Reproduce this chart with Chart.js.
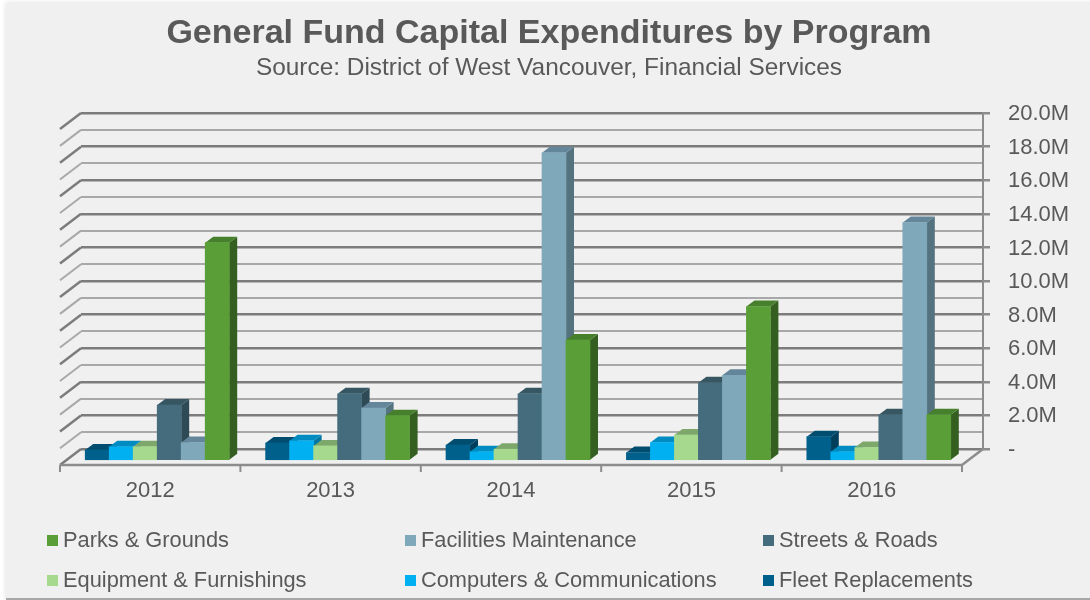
<!DOCTYPE html>
<html><head><meta charset="utf-8">
<script src="https://cdn.jsdelivr.net/npm/chart.js@4"></script>
<style>
html,body{margin:0;padding:0;background:#fff;width:1090px;height:600px;overflow:hidden}
#card{position:absolute;left:6px;top:3px;width:1090px;height:595px;background:#f0f0f0;box-shadow:0 0 5px rgba(0,0,0,.14);border-bottom:2px solid #a8a8a8}
#wrap{position:absolute;left:0;top:0;width:1090px;height:600px}
.lg{position:absolute;font:21.8px "Liberation Sans",Arial,sans-serif;color:#595959;white-space:nowrap;line-height:24px}
.lg i{position:absolute;left:-16px;top:7px;width:11px;height:11px}
</style></head><body>
<div id="card"></div>
<div id="wrap"><canvas id="c" width="1090" height="600"></canvas></div>
<script>
const categories = ['2012','2013','2014','2015','2016'];
const fleet      = [0.65,1.07,0.95,0.5,1.45];
const computers  = [0.85,1.2,0.55,1.1,0.55];
const equipment  = [0.85,0.9,0.7,1.55,0.8];
const streets    = [3.33,4.0,4.0,4.66,2.75];
const facilities = [1.1,3.15,18.35,5.1,14.2];
const parks      = [13.0,2.7,7.2,9.2,2.75];
const seriesNames = ['Fleet Replacements','Computers & Communications','Equipment & Furnishings','Streets & Roads','Facilities Maintenance','Parks & Grounds'];
const seriesValues = [fleet,computers,equipment,streets,facilities,parks];
const frontColors = ['#00608c','#00b0f0','#a6d98e','#446c7c','#7fa8ba','#5a9e38'];
const topColors   = ['#004d70','#008cc0','#7ea86b','#365662','#64869a','#47802c'];
const sideColors  = ['#003f5c','#0076a2','#6d925c','#2d4a55','#55727f','#355f20'];
const legendOrder = [5,4,3,2,1,0];
const yTickStep = 1;
const yMax = 20;
const FONT = '"Liberation Sans",Arial,sans-serif';
const GREY = '#595959';

const DEPTH_X = 21, DEPTH_Y = 16, BAR_DX = -14, BAR_DY = 12, SIDE_X = 8, SIDE_Y = 6;

const scene = {
  id:'scene',
  beforeDatasetDraw(){ return false; },
  afterDatasetsDraw(chart){
    const ctx = chart.ctx;
    const metas = seriesNames.map((_,i)=>chart.getDatasetMeta(i));
    ctx.save();
    ctx.translate(BAR_DX,BAR_DY);
    categories.forEach((_,c)=>{
      metas.forEach((m,s)=>{
        const b = m.data[c];
        const l = b.x-b.width/2, r = b.x+b.width/2, t = b.y, bt = b.base;
        ctx.fillStyle = sideColors[s];
        ctx.beginPath();
        ctx.moveTo(r,t);ctx.lineTo(r+SIDE_X,t-SIDE_Y);ctx.lineTo(r+SIDE_X,bt-SIDE_Y);ctx.lineTo(r,bt);ctx.closePath();ctx.fill();
        ctx.fillStyle = topColors[s];
        ctx.beginPath();
        ctx.moveTo(l,t);ctx.lineTo(l+SIDE_X,t-SIDE_Y);ctx.lineTo(r+SIDE_X,t-SIDE_Y);ctx.lineTo(r,t);ctx.closePath();ctx.fill();
        b.draw(ctx);
      });
    });
    ctx.restore();
  },
  beforeDatasetsDraw(chart){
    const ctx = chart.ctx, y = chart.scales.y, a = chart.chartArea;
    ctx.save();
    for(let v=0;v<=yMax;v+=yTickStep){
      const p = y.getPixelForValue(v);
      ctx.strokeStyle = v%2===0?'#7c7c7c':'#a8a8a8';
      ctx.lineWidth = v%2===0?2.5:2;
      ctx.beginPath();ctx.moveTo(a.left,p);ctx.lineTo(a.left-DEPTH_X,p+DEPTH_Y);ctx.stroke();
    }
    const y0 = y.getPixelForValue(0);
    ctx.strokeStyle='#8c8c8c';ctx.lineWidth=2.5;
    ctx.beginPath();ctx.moveTo(a.left-DEPTH_X,y0+DEPTH_Y);ctx.lineTo(a.right-DEPTH_X,y0+DEPTH_Y);ctx.lineTo(a.right,y0);ctx.stroke();
    const band = (a.right-a.left)/categories.length;
    ctx.lineWidth=2;
    for(let i=0;i<=categories.length;i++){
      const tx = a.left-DEPTH_X+i*band;
      ctx.beginPath();ctx.moveTo(tx,y0+DEPTH_Y);ctx.lineTo(tx,y0+DEPTH_Y+7);ctx.stroke();
    }
    ctx.restore();
  }
};

new Chart(document.getElementById('c'),{
  type:'bar',
  data:{labels:categories,datasets:seriesNames.map((n,i)=>({label:n,data:seriesValues[i],yAxisID:'y',backgroundColor:frontColors[i],barThickness:24,borderWidth:0}))},
  plugins:[scene],
  options:{
    responsive:false,animation:false,
    layout:{padding:{left:8,right:0,top:13,bottom:0}},
    plugins:{
      legend:{display:false},
      tooltip:{enabled:false},
      title:{display:true,text:'General Fund Capital Expenditures by Program',color:GREY,font:{family:FONT,size:34,weight:'bold'},padding:{top:0,bottom:0}},
      subtitle:{display:true,text:'Source: District of West Vancouver, Financial Services',color:GREY,font:{family:FONT,size:24.4,weight:'normal'},padding:{top:0,bottom:30}}
    },
    scales:{
      x:{
        grid:{display:false,drawTicks:false},
        border:{display:false},
        ticks:{color:GREY,font:{family:FONT,size:22},labelOffset:-21,padding:29,maxRotation:0},
        afterFit(s){s.height=151;}
      },
      y:{
        position:'right',min:0,max:yMax,
        grid:{color:c=>c.tick.value%2===0?'#7c7c7c':'#a8a8a8',lineWidth:c=>c.tick.value%2===0?2.5:2,tickLength:7,
              tickColor:c=>c.tick.value%2===0?'#8c8c8c':'rgba(0,0,0,0)',drawOnChartArea:true},
        border:{display:true,color:'#8c8c8c',width:2},
        ticks:{stepSize:yTickStep,color:GREY,font:{family:FONT,size:22},padding:18,labelOffset:1,autoSkip:false,
               callback:v=>v===0?'-':(v%2===0?v.toFixed(1)+'M':'')},
        afterFit(s){s.width=107;}
      },
      yLeft:{
        position:'left',min:0,max:yMax,
        grid:{display:false,drawTicks:false},border:{display:false},
        ticks:{display:false},
        afterFit(s){s.width=73;}
      }
    }
  }
});

const columns=[63,421,779], rows=[528,568];
legendOrder.forEach((s,i)=>{
  const d=document.createElement('div');d.className='lg';
  d.style.left=columns[i%3]+'px';d.style.top=rows[Math.floor(i/3)]+'px';
  d.textContent=seriesNames[s];
  const k=document.createElement('i');k.style.background=frontColors[s];d.appendChild(k);
  document.body.appendChild(d);
});
</script></body></html>
